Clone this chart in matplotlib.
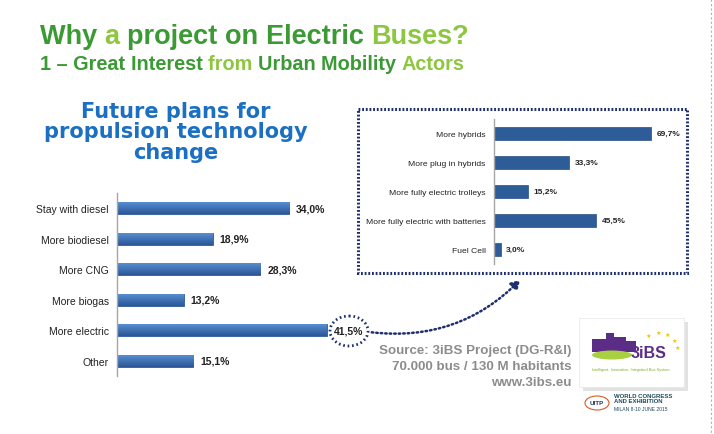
import numpy as np
import matplotlib
matplotlib.use("Agg")
import matplotlib.pyplot as plt
from matplotlib.patches import Ellipse, Rectangle, FancyArrowPatch

plt.rcParams['font.family'] = ['Liberation Sans', 'DejaVu Sans']

# 데이터
left_cats = ["Stay with diesel", "More biodiesel", "More CNG", "More biogas", "More electric", "Other"]
left_vals = [34.0, 18.9, 28.3, 13.2, 41.5, 15.1]
right_cats = ["More hybrids", "More plug in hybrids", "More fully electric trolleys",
              "More fully electric with batteries", "Fuel Cell"]
right_vals = [69.7, 33.3, 15.2, 45.5, 3.0]

source_lines = ["Source: 3iBS Project (DG-R&I)", "70.000 bus / 130 M habitants", "www.3ibs.eu"]
left_title = ["Future plans for", "propulsion technology", "change"]

W, H = 714, 435
fig = plt.figure(figsize=(W / 100, H / 100), dpi=100)
fig.patch.set_facecolor("white")


def px_axes(x0, y0, x1, y1):
    # 픽셀 좌표(좌상단 원점)로 축 배치
    return fig.add_axes([x0 / W, (H - y1) / H, (x1 - x0) / W, (y1 - y0) / H])


def fmt(v):
    return f"{v:.1f}%".replace(".", ",")


def style_axis(ax, fs):
    for s in ["top", "right", "bottom"]:
        ax.spines[s].set_visible(False)
    ax.spines["left"].set_color("#a6a6a6")
    ax.spines["left"].set_linewidth(1.0)
    ax.set_xticks([])
    ax.tick_params(axis="y", length=0, pad=6, labelsize=fs, labelcolor="#222222")
    ax.patch.set_alpha(0)


# 왼쪽 막대그래프
ax1 = px_axes(117, 194, 370, 377)
y1 = np.arange(len(left_cats))
bars1 = ax1.barh(y1, left_vals, height=0.4, color="#3a6fb6", edgecolor="#2d5a98", linewidth=0.6)
ax1.set_yticks(y1)
ax1.set_yticklabels(left_cats)
ax1.set_xlim(0, 50)
ax1.set_ylim(len(left_cats) - 0.5, -0.5)
style_axis(ax1, 7.5)
# 막대 그라데이션
grad = np.linspace(0, 1, 64).reshape(-1, 1)
cmap = matplotlib.colors.LinearSegmentedColormap.from_list("b", ["#5b92d6", "#2b5797"])
for b in bars1:
    x0, yb = b.get_x(), b.get_y()
    im = ax1.imshow(grad, cmap=cmap, aspect="auto",
                    extent=[x0, x0 + b.get_width(), yb + b.get_height(), yb], zorder=2)
    im.set_clip_path(b)
for yi, v in zip(y1, left_vals):
    ax1.annotate(fmt(v), (v, yi), xytext=(5, 0), textcoords="offset points",
                 va="center", ha="left", fontsize=7.5, fontweight="bold", color="#222222")

# 오른쪽 막대그래프
ax2 = px_axes(494, 120, 674, 265)
y2 = np.arange(len(right_cats))
ax2.barh(y2, right_vals, height=0.43, color="#2e5c99", edgecolor="#274f86", linewidth=0.5)
ax2.set_yticks(y2)
ax2.set_yticklabels(right_cats)
ax2.set_xlim(0, 80)
ax2.set_ylim(len(right_cats) - 0.5, -0.5)
style_axis(ax2, 6.1)
for yi, v in zip(y2, right_vals):
    ax2.annotate(fmt(v), (v, yi), xytext=(4, 0), textcoords="offset points",
                 va="center", ha="left", fontsize=6.0, fontweight="bold", color="#222222")

# 전체 오버레이 (픽셀 좌표)
top = fig.add_axes([0, 0, 1, 1], zorder=5)
top.set_xlim(0, W)
top.set_ylim(H, 0)
top.axis("off")

navy = "#1e2e6e"
top.add_patch(Rectangle((358, 110), 329, 164, fill=False, edgecolor=navy,
                        linewidth=2.2, linestyle=(0, (0.6, 0.6))))
top.add_patch(Ellipse((349, 332), 38, 30, fill=False, edgecolor=navy,
                      linewidth=2.0, linestyle=(0, (0.6, 1.0))))
top.add_patch(FancyArrowPatch((369, 333), (522, 279), connectionstyle="arc3,rad=0.25",
                              arrowstyle="-|>,head_length=5,head_width=3", color=navy,
                              linewidth=1.8, linestyle=(0, (0.6, 1.2)), mutation_scale=1))

# 오른쪽 테두리 점선
top.plot([711, 711], [0, H], color="#b0b0b0", linewidth=0.8, linestyle=(0, (2, 2)))

# 제목
dark_g, light_g = "#3c9a35", "#8dc63f"
words = [("Why ", dark_g), ("a ", light_g), ("project ", dark_g), ("on ", dark_g),
         ("Electric ", dark_g), ("Buses?", light_g)]
renderer = fig.canvas.get_renderer()
x = 40
for w, c in words:
    tx = top.text(x, 44, w, fontsize=19.5, fontweight="bold", color=c, va="baseline", ha="left")
    x += tx.get_window_extent(renderer=renderer).width
sub = [("1 – Great ", dark_g), ("Interest ", dark_g), ("from ", light_g), ("Urban ", dark_g),
       ("Mobility ", dark_g), ("Actors", light_g)]
x = 40
for w, c in sub:
    tx = top.text(x, 70, w, fontsize=14.3, fontweight="bold", color=c, va="baseline", ha="left")
    x += tx.get_window_extent(renderer=renderer).width

for i, s in enumerate(left_title):
    top.text(176, 118 + i * 20.5, s, fontsize=15, fontweight="bold", family="DejaVu Sans",
             color="#1b70c2", ha="center", va="baseline")

# 출처
for i, s in enumerate(source_lines):
    top.text(571, 351 + i * 16, s, fontsize=9.6, fontweight="bold", color="#8c8c8c",
             ha="right", va="center")

# 3iBS 로고
top.add_patch(Rectangle((583, 323), 105, 69, facecolor="#d0d0d0", edgecolor="none", alpha=0.6))
top.add_patch(Rectangle((579, 319), 105, 69, facecolor="white", edgecolor="#e6e6e6", linewidth=0.5))
top.add_patch(Rectangle((592, 340), 14, 13, facecolor="#5b2d86", edgecolor="none"))
top.add_patch(Rectangle((606, 334), 8, 19, facecolor="#5b2d86", edgecolor="none"))
top.add_patch(Rectangle((614, 338), 12, 15, facecolor="#5b2d86", edgecolor="none"))
top.add_patch(Rectangle((626, 342), 10, 11, facecolor="#5b2d86", edgecolor="none"))
top.add_patch(Ellipse((612, 356), 40, 9, facecolor="#a8d040", edgecolor="none"))
top.text(649, 354, "3iBS", fontsize=11.5, fontweight="bold", color="#5b2d86", ha="center", va="center")
for sx, sy in [(648, 336), (658, 333), (667, 335), (674, 341), (677, 348)]:
    top.text(sx, sy, "★", fontsize=4.5, color="#f2c200", ha="center", va="center", family="DejaVu Sans")
top.text(631, 370, "Intelligent, Innovative, Integrated Bus System", fontsize=2.8,
         color="#7bb026", ha="center", va="center")

# UITP 로고
top.add_patch(Ellipse((597, 404), 24, 14, fill=False, edgecolor="#d55b27", linewidth=0.8))
top.text(597, 404, "UITP", fontsize=4.5, fontweight="bold", color="#1e3a5c", ha="center", va="center")
top.text(614, 399, "WORLD CONGRESS\nAND EXHIBITION", fontsize=4.3, fontweight="bold",
         color="#1e4a5c", ha="left", va="center", linespacing=0.9)
top.text(614, 410, "MILAN 8-10 JUNE 2015", fontsize=3.6, color="#1e4a5c", ha="left", va="center")

fig.savefig("out.png", dpi=100)
